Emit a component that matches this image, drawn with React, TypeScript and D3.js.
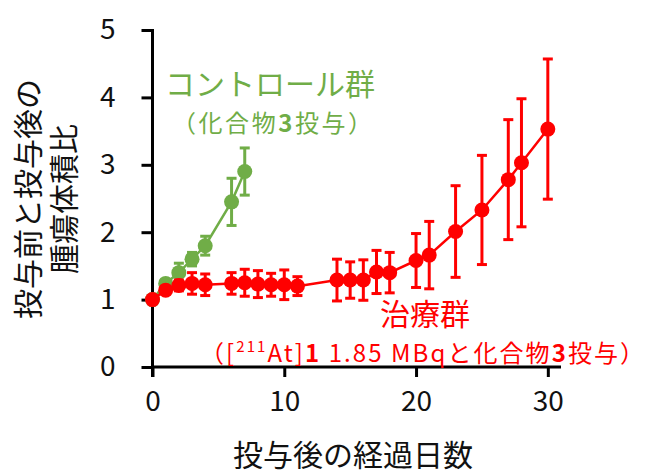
import React, { useEffect, useRef } from "react";
import * as d3 from "d3";

// treatment group ([211At]1 1.85 MBq + compound 3)
const redDays = [0, 1, 2, 3, 4, 6, 7, 8, 9, 10, 11, 14, 15, 16, 17, 18, 20, 21, 23, 25, 27, 28, 30];
const redMean = [1.0, 1.14, 1.21, 1.24, 1.22, 1.24, 1.25, 1.23, 1.22, 1.22, 1.2, 1.29, 1.29, 1.29, 1.41, 1.4, 1.58, 1.66, 2.01, 2.33, 2.78, 3.03, 3.53];
const redErr = [0, 0.05, 0.08, 0.16, 0.16, 0.16, 0.2, 0.2, 0.17, 0.22, 0.14, 0.31, 0.27, 0.3, 0.32, 0.3, 0.4, 0.5, 0.68, 0.81, 0.89, 0.95, 1.04];

// control group (compound 3 only)
const ctrlDays = [0, 1, 2, 3, 4, 6, 7];
const ctrlMean = [1.0, 1.24, 1.4, 1.6, 1.8, 2.45, 2.9];
const ctrlErr = [0, 0.05, 0.14, 0.1, 0.14, 0.35, 0.35];

const xTicks = [0, 10, 20, 30];
const yTicks = [0, 1, 2, 3, 4, 5];

const GREEN = "#70AD47";
const RED = "#FF0000";
const FONT = "'Noto Sans CJK JP', 'Noto Sans', sans-serif";

function App() {
    const ref = useRef(null);

    useEffect(() => {
        const svg = d3.select(ref.current);
        svg.selectAll("*").remove();

        const x = d3.scaleLinear().domain([0, 31]).range([152.5, 561]);
        const y = d3.scaleLinear().domain([0, 5]).range([367, 30]);

        // axes
        const yAxis = svg.append("g")
            .attr("transform", `translate(${x(0)},0)`)
            .call(d3.axisLeft(y).tickValues(yTicks).tickSize(11).tickPadding(26).tickFormat(d3.format("d")));
        yAxis.select(".domain").remove();
        yAxis.selectAll("line").attr("stroke", "#000").attr("stroke-width", 3);
        yAxis.selectAll("text").attr("font-size", 28).attr("font-family", FONT).attr("fill", "#111");

        const xAxis = svg.append("g")
            .attr("transform", `translate(0,${y(0)})`)
            .call(d3.axisBottom(x).tickValues(xTicks).tickSize(10).tickPadding(14).tickFormat(d3.format("d")));
        xAxis.select(".domain").remove();
        xAxis.selectAll("line").attr("stroke", "#000").attr("stroke-width", 3);
        xAxis.selectAll("text").attr("font-size", 28).attr("font-family", FONT).attr("fill", "#111");

        svg.append("line")
            .attr("x1", x(0)).attr("x2", x(0))
            .attr("y1", y(5) - 1).attr("y2", y(0) + 10)
            .attr("stroke", "#000").attr("stroke-width", 3);
        svg.append("line")
            .attr("x1", x(0)).attr("x2", x(31))
            .attr("y1", y(0)).attr("y2", y(0))
            .attr("stroke", "#000").attr("stroke-width", 3);

        // series
        const drawSeries = (days, mean, err, color) => {
            const pts = days.map((d, i) => ({ d, m: mean[i], e: err[i] }));
            const g = svg.append("g");
            g.append("path")
                .datum(pts)
                .attr("fill", "none")
                .attr("stroke", color)
                .attr("stroke-width", 2.5)
                .attr("d", d3.line().x(p => x(p.d)).y(p => y(p.m)));
            const eb = g.selectAll("g.eb").data(pts.filter(p => p.e > 0)).join("g");
            eb.append("line")
                .attr("x1", p => x(p.d)).attr("x2", p => x(p.d))
                .attr("y1", p => y(p.m + p.e)).attr("y2", p => y(p.m - p.e))
                .attr("stroke", color).attr("stroke-width", 3);
            [1, -1].forEach(s => {
                eb.append("line")
                    .attr("x1", p => x(p.d) - 5).attr("x2", p => x(p.d) + 5)
                    .attr("y1", p => y(p.m + s * p.e)).attr("y2", p => y(p.m + s * p.e))
                    .attr("stroke", color).attr("stroke-width", 3);
            });
            g.selectAll("circle").data(pts).join("circle")
                .attr("cx", p => x(p.d)).attr("cy", p => y(p.m))
                .attr("r", 7.5).attr("fill", color);
        };
        drawSeries(ctrlDays, ctrlMean, ctrlErr, GREEN);
        drawSeries(redDays, redMean, redErr, RED);

        // axis titles
        svg.append("text")
            .attr("x", 353).attr("y", 466)
            .attr("text-anchor", "middle")
            .attr("font-size", 30).attr("font-family", FONT).attr("fill", "#111")
            .text("投与後の経過日数");
        const yt = svg.append("text")
            .attr("transform", "translate(0,199) rotate(-90)")
            .attr("text-anchor", "middle")
            .attr("font-size", 30).attr("font-family", FONT).attr("fill", "#111");
        yt.append("tspan").attr("x", 0).attr("y", 39).text("投与前と投与後の");
        yt.append("tspan").attr("x", 0).attr("y", 75).text("腫瘍体積比");

        // annotations
        svg.append("text")
            .attr("x", 270).attr("y", 95)
            .attr("text-anchor", "middle")
            .attr("font-size", 30).attr("font-family", FONT).attr("fill", GREEN)
            .text("コントロール群");
        const c2 = svg.append("text")
            .attr("x", 172).attr("y", 132)
            .attr("textLength", 200).attr("lengthAdjust", "spacing")
            .attr("font-size", 24).attr("font-family", FONT).attr("fill", GREEN);
        c2.append("tspan").text("（化合物");
        c2.append("tspan").attr("font-weight", "bold").text("3");
        c2.append("tspan").text("投与）");

        svg.append("text")
            .attr("x", 425).attr("y", 325)
            .attr("text-anchor", "middle")
            .attr("font-size", 30).attr("font-family", FONT).attr("fill", RED)
            .text("治療群");
        const r2 = svg.append("text")
            .attr("x", 200).attr("y", 362)
            .attr("textLength", 444).attr("lengthAdjust", "spacing")
            .attr("font-size", 24).attr("font-family", FONT).attr("fill", RED);
        r2.append("tspan").text("（[");
        r2.append("tspan").attr("font-size", 15).attr("dy", -10).text("211");
        r2.append("tspan").attr("dy", 10).text("At]");
        r2.append("tspan").attr("font-weight", "bold").text("1");
        r2.append("tspan").text(" 1.85 MBqと化合物");
        r2.append("tspan").attr("font-weight", "bold").text("3");
        r2.append("tspan").text("投与）");
    }, []);

    return (
        <svg ref={ref} width={646} height={475}
            style={{ position: "absolute", left: 0, top: 0, background: "#fff" }}></svg>
    );
}

export default App;
